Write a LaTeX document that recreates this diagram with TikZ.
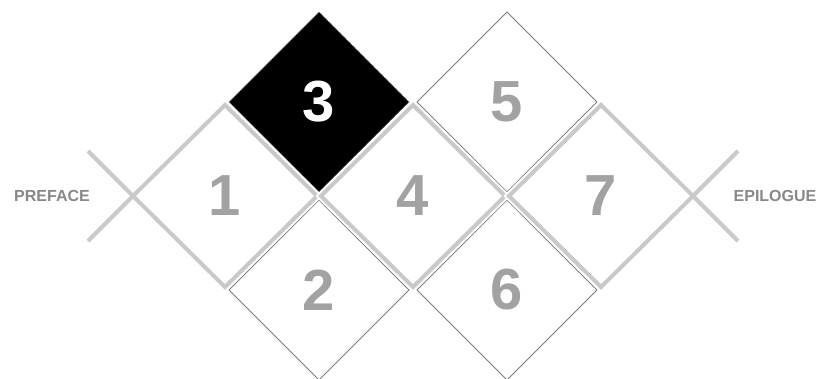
\documentclass[tikz,border=0pt]{standalone}
\usepackage{fontspec}
\setmainfont{Liberation Sans}
\usetikzlibrary{shapes.geometric}
\definecolor{chapgray}{HTML}{C9C9C9}
\definecolor{numgray}{HTML}{A2A2A2}
\definecolor{edgegray}{HTML}{7C7C7C}
\definecolor{labelgray}{HTML}{888888}
\tikzset{
  numfont/.style={font=\fontsize{58}{58}\selectfont\bfseries},
  partbox/.style={diamond, aspect=1, inner sep=0pt, outer sep=0pt, minimum width=180pt, minimum height=180pt,
    draw=edgegray, line width=0.8pt, fill=white, text=numgray, numfont},
  curbox/.style={partbox, fill=black, draw=gray, densely dotted, text=white},
  chapbox/.style={diamond, aspect=1, inner sep=0pt, outer sep=0pt, minimum width=184pt, minimum height=182pt,
    preaction={draw=white, line width=8pt}, draw=chapgray, line width=4pt, text=numgray, numfont},
  sidelabel/.style={text=labelgray, font=\fontsize{16}{16}\selectfont\bfseries},
  crossline/.style={chapgray, line width=4pt}
}

\begin{document}
\begin{tikzpicture}[x=1pt, y=-1pt]
  \useasboundingbox (0,0) rectangle (821,378);
  \node[partbox] (p2) at (319,290) {2};
  \node[partbox] (p6) at (507,290) {6};
  \node[curbox] (p3) at (319,102) {3};
  \node[partbox] (p5) at (507,102) {5};
  \node[chapbox] (p1) at (225,196) {1};
  \node[chapbox] (p4) at (413,196) {4};
  \node[chapbox] (p7) at (601,196) {7};
  \coordinate (preup) at (88,151);
  \coordinate (predown) at (88,241);
  \coordinate (epiup) at (738,151);
  \coordinate (epidown) at (738,241);
  \draw[crossline] (p1.west) -- (preup);
  \draw[crossline] (p1.west) -- (predown);
  \draw[crossline] (p7.east) -- (epiup);
  \draw[crossline] (p7.east) -- (epidown);
  \node[sidelabel] (preface) at (52,196) {PREFACE};
  \node[sidelabel] (epilogue) at (775,196) {EPILOGUE};
\end{tikzpicture}
\end{document}
